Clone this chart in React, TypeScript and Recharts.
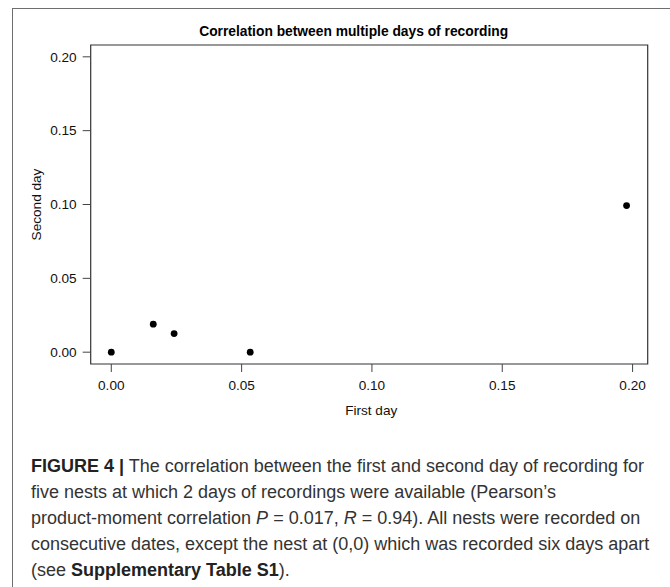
import React from 'react';
import { ScatterChart, Scatter, XAxis, YAxis, ReferenceArea, Label } from 'recharts';

const firstDay = [0, 0.0161, 0.0241, 0.0533, 0.1977];
const secondDay = [0, 0.019, 0.0126, 0, 0.0993];
const xTicks = [0, 0.05, 0.1, 0.15, 0.2];
const yTicks = [0, 0.05, 0.1, 0.15, 0.2];
const xDomain = [-0.0079, 0.2058];
const yDomain = [-0.008, 0.208];

const chartTitle = 'Correlation between multiple days of recording';
const xLabel = 'First day';
const yLabel = 'Second day';

const data = firstDay.map((x, i) => ({ x, y: secondDay[i] }));

const FONT = '"Liberation Sans", Arial, Helvetica, sans-serif';

const Dot = (props: any) => <circle cx={props.cx} cy={props.cy} r={3.4} fill="#000" />;

export default function App() {
  return (
    <div style={{ position: 'absolute', left: 0, top: 0, width: 670, height: 587, overflow: 'hidden', background: '#fff', fontFamily: FONT }}>
      <div style={{ position: 'absolute', left: 12, top: 8, width: 700, height: 620, borderTop: '1.5px solid #6e6e6e', borderLeft: '1.5px solid #6e6e6e' }} />
      <div style={{ position: 'absolute', left: 353.7, top: 23.8, transform: 'translateX(-50%)', whiteSpace: 'nowrap', fontSize: 13.8, fontWeight: 'bold', color: '#000', lineHeight: 'normal' }}>
        {chartTitle}
      </div>
      <div style={{ position: 'absolute', left: 0, top: 0 }}>
        <ScatterChart width={670} height={430} margin={{ top: 45, right: 22.3, left: 0, bottom: 0 }}>
          <XAxis
            type="number"
            dataKey="x"
            domain={xDomain}
            allowDataOverflow
            ticks={xTicks}
            tickFormatter={(v: number) => v.toFixed(2)}
            tickSize={8}
            tickMargin={8}
            height={66}
            axisLine={false}
            tickLine={{ stroke: '#444' }}
            tick={{ fill: '#111', fontSize: 13.6, fontFamily: FONT }}
            interval={0}
          >
            <Label
              content={(p: any) => {
                const vb = p.viewBox;
                return (
                  <text x={vb.x + vb.width / 2 + 2} y={vb.y + 51} textAnchor="middle" fontSize={13.6} fontFamily={FONT} fill="#111">
                    {xLabel}
                  </text>
                );
              }}
            />
          </XAxis>
          <YAxis
            type="number"
            dataKey="y"
            domain={yDomain}
            allowDataOverflow
            ticks={yTicks}
            tickFormatter={(v: number) => v.toFixed(2)}
            tickSize={8}
            tickMargin={6}
            width={90.7}
            axisLine={false}
            tickLine={{ stroke: '#444' }}
            tick={{ fill: '#111', fontSize: 13.6, fontFamily: FONT }}
            interval={0}
          >
            <Label
              content={(p: any) => {
                const vb = p.viewBox;
                const cx = vb.x + 40.5;
                const cy = vb.y + vb.height / 2;
                return (
                  <text x={cx} y={cy} transform={`rotate(-90, ${cx}, ${cy})`} textAnchor="middle" fontSize={13.6} fontFamily={FONT} fill="#111">
                    {yLabel}
                  </text>
                );
              }}
            />
          </YAxis>
          <ReferenceArea x1={xDomain[0]} x2={xDomain[1]} y1={yDomain[0]} y2={yDomain[1]} fill="none" fillOpacity={0} stroke="#333" strokeWidth={1.2} ifOverflow="visible" />
          <Scatter data={data} shape={Dot} isAnimationActive={false} />
        </ScatterChart>
      </div>
      <div style={{ position: 'absolute', left: 31, top: 452.9, fontSize: 18, lineHeight: '26.1px', color: '#333', whiteSpace: 'nowrap' }}>
        <div><b style={{ color: '#222' }}>FIGURE 4 |</b> The correlation between the first and second day of recording for</div>
        <div>five nests at which 2 days of recordings were available (Pearson’s</div>
        <div>product-moment correlation <i>P</i> = 0.017, <i>R</i> = 0.94). All nests were recorded on</div>
        <div>consecutive dates, except the nest at (0,0) which was recorded six days apart</div>
        <div>(see <b style={{ color: '#222' }}>Supplementary Table S1</b>).</div>
      </div>
    </div>
  );
}
